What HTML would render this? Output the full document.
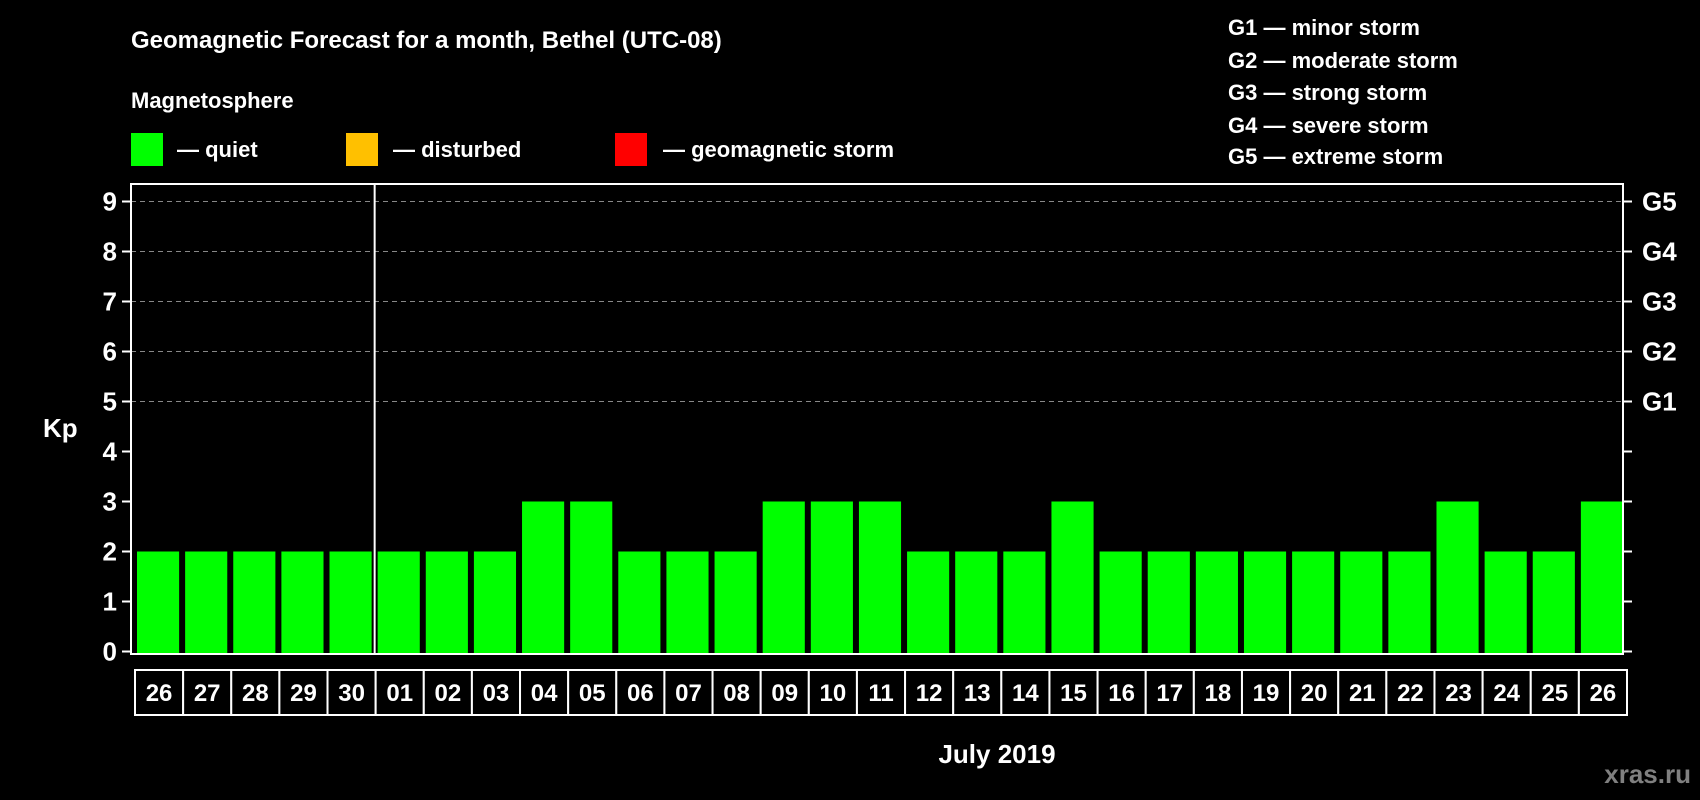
<!DOCTYPE html>
<html><head><meta charset="utf-8"><style>
html,body{margin:0;padding:0;background:#000;}
svg{display:block;font-family:"Liberation Sans",Arial,sans-serif;font-weight:bold;}
</style></head><body>
<svg id="chart" width="1700" height="800" viewBox="0 0 1700 800" xmlns="http://www.w3.org/2000/svg">
<text x="131" y="48" fill="#fff" font-size="24">Geomagnetic Forecast for a month, Bethel (UTC-08)</text>
<text x="131" y="108" fill="#fff" font-size="22">Magnetosphere</text>
<rect x="131" y="133" width="32" height="33" fill="#00ff00"/>
<text x="177" y="157" fill="#fff" font-size="22">— quiet</text>
<rect x="346" y="133" width="32" height="33" fill="#ffc000"/>
<text x="393" y="157" fill="#fff" font-size="22">— disturbed</text>
<rect x="615" y="133" width="32" height="33" fill="#ff0000"/>
<text x="663" y="157" fill="#fff" font-size="22">— geomagnetic storm</text>
<g font-size="22" fill="#fff">
<text x="1228" y="35">G1 — minor storm</text>
<text x="1228" y="68">G2 — moderate storm</text>
<text x="1228" y="100">G3 — strong storm</text>
<text x="1228" y="133">G4 — severe storm</text>
<text x="1228" y="164">G5 — extreme storm</text>
</g>
<g id="plot"></g>
<text x="43" y="437" fill="#fff" font-size="26">Kp</text>
<text x="997" y="763" fill="#fff" font-size="26" text-anchor="middle">July 2019</text>
<text x="1691" y="783" fill="#808080" font-size="26" text-anchor="end">xras.ru</text>
</svg>
<script>
const days = ["26","27","28","29","30","01","02","03","04","05","06","07","08","09","10","11","12","13","14","15","16","17","18","19","20","21","22","23","24","25","26"];
const kpValues = [2,2,2,2,2,2,2,2,3,3,2,2,2,3,3,3,2,2,2,3,2,2,2,2,2,2,2,3,2,2,3];
const yTicks = [0,1,2,3,4,5,6,7,8,9];
const gLabels = ["G1","G2","G3","G4","G5"];
const gLevels = [5,6,7,8,9];

const NS="http://www.w3.org/2000/svg";
const g=document.getElementById('plot');
const L=131,R=1623,T=184,B=654;
const y0=651.5,unit=50;
const yS=v=>y0-v*unit;
const pitch=(R-L)/days.length;
const xS=i=>L+i*pitch;
function mk(t,a){const e=document.createElementNS(NS,t);for(const k in a)e.setAttribute(k,a[k]);g.appendChild(e);return e;}
function col(v){return v>=5?'#ff0000':(v>=4?'#ffc000':'#00ff00');}

yTicks.forEach(v=>{
  const y=yS(v);
  if(v>=5){const l=mk('line',{x1:L,x2:R,y1:y,y2:y,stroke:'#888','stroke-dasharray':'5,4','stroke-width':1});
    
    }
  const t1=mk('line',{x1:L-9,x2:L,y1:y,y2:y,stroke:'#fff','stroke-width':2});
  
  
  const t2=mk('line',{x1:R,x2:R+9,y1:y,y2:y,stroke:'#fff','stroke-width':2});
  
  
  const tx=mk('text',{x:L-14,y:y+9,fill:'#fff','font-size':26,'text-anchor':'end'});
  tx.textContent=v;
  
  
});
gLabels.forEach((s,i)=>{
  const tx=mk('text',{x:R+19,y:yS(gLevels[i])+9,fill:'#fff','font-size':26});
  tx.textContent=s;
  
  
});
kpValues.forEach((v,i)=>{
  const r=mk('rect',{x:xS(i)+6,y:yS(v),width:pitch-6,height:B-yS(v),fill:col(v)});
  
  
});
const fr=mk('rect',{x:L,y:T,width:R-L,height:B-T,fill:'none',stroke:'#fff','stroke-width':2});


const div=days.indexOf("01");
const dl=mk('line',{x1:xS(div)+3,x2:xS(div)+3,y1:T,y2:B,stroke:'#fff','stroke-width':2});


days.forEach((d,i)=>{
  const c=mk('rect',{x:xS(i)+4,y:670,width:pitch,height:45,fill:'#000',stroke:'#fff','stroke-width':2});
  
  
  const t=mk('text',{x:xS(i)+4+pitch/2,y:701,fill:'#fff','font-size':24,'text-anchor':'middle'});
  t.textContent=d;
  
  
});
</script>
</body></html>
